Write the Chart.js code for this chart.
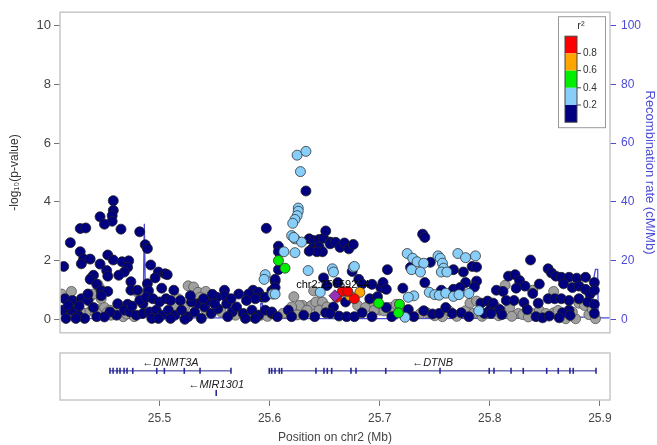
<!DOCTYPE html>
<html>
<head>
<meta charset="utf-8">
<script src="https://cdn.jsdelivr.net/npm/chart.js@4.4.1/dist/chart.umd.min.js"></script>
<style>
  html, body { margin: 0; padding: 0; background: #fff; }
  #wrap { position: relative; width: 657px; height: 445px; }
  #main { position: absolute; left: 0; top: 0; }
  #genes { position: absolute; left: 0; top: 345px; }
</style>
</head>
<body>
<div id="wrap">
  <canvas id="main" width="657" height="345"></canvas>
  <canvas id="genes" width="657" height="100"></canvas>
</div>
<script>
// --- data: [position (Mb), -log10(p)] ---
const snpNavy = [
  [25.458,4.04],[25.458,3.71],[25.457,3.53],[25.457,3.34],[25.446,3.49],[25.450,3.24],[25.428,3.09],[25.433,3.11],
  [25.465,3.07],[25.482,2.98],[25.419,2.61],[25.487,2.54],[25.489,2.41],[25.413,1.80],[25.428,2.30],[25.431,2.05],
  [25.437,2.05],[25.429,1.89],[25.453,2.19],[25.458,2.02],[25.446,1.88],[25.466,1.96],[25.472,1.99],[25.471,1.77],
  [25.468,1.61],[25.452,1.66],[25.453,1.47],[25.463,1.50],[25.440,1.50],[25.437,1.36],[25.474,1.28],[25.492,1.85],
  [25.499,1.61],[25.505,1.55],[25.496,1.41],[25.489,1.21],[25.443,1.19],[25.447,0.97],[25.453,0.95],[25.474,0.99],
  [25.480,0.99],[25.490,0.97],[25.502,1.06],[25.462,0.53],[25.471,0.51],
  [25.414,0.70],[25.421,0.64],[25.429,0.70],[25.435,0.64],[25.412,0.31],[25.420,0.31],[25.426,0.14],[25.432,0.03],
  [25.424,0.03],[25.415,0.03],[25.443,0.09],[25.461,0.14],[25.468,0.31],[25.473,0.25],[25.479,0.14],[25.485,0.20],
  [25.491,0.25],[25.497,0.31],[25.502,0.14],[25.493,0.03],[25.499,0.03],[25.485,0.53],[25.482,0.64],[25.488,0.75],
  [25.494,0.70],[25.500,0.59],[25.506,0.70],[25.447,0.80],[25.435,0.86],[25.417,0.47],[25.427,0.45],[25.440,0.40],
  [25.455,0.25],[25.475,0.45],[25.450,0.08],
  [25.597,3.10],[25.507,1.52],[25.513,0.99],[25.559,0.99],[25.572,0.86],[25.559,0.80],[25.552,0.75],[25.585,0.99],
  [25.581,0.86],[25.590,0.92],[25.593,0.75],[25.587,0.70],[25.579,0.64],[25.596,0.75],[25.602,0.97],[25.605,1.30],
  [25.508,0.31],[25.514,0.14],[25.520,0.31],[25.526,0.09],[25.532,0.25],[25.535,0.53],[25.541,0.42],[25.547,0.20],
  [25.553,0.36],[25.561,0.53],[25.566,0.25],[25.570,0.42],[25.576,0.20],[25.584,0.31],[25.590,0.14],[25.596,0.31],
  [25.602,0.20],[25.510,0.64],[25.519,0.64],[25.529,0.59],[25.544,0.64],[25.550,0.53],[25.562,0.09],[25.578,0.03],
  [25.587,0.03],[25.538,0.03],[25.523,0.00],[25.510,0.03],[25.528,0.80],[25.548,0.85],[25.565,0.70],[25.540,0.70],
  [25.633,4.37],[25.636,2.74],[25.640,2.68],[25.645,2.72],[25.649,2.76],[25.651,3.01],[25.655,2.63],[25.639,2.41],
  [25.645,2.46],[25.648,2.30],[25.643,2.30],[25.636,2.32],[25.608,2.49],[25.608,2.30],[25.608,1.69],[25.605,1.36],
  [25.605,1.08],[25.675,1.63],[25.649,1.41],[25.681,1.36],[25.684,1.20],[25.693,1.19],[25.701,1.08],[25.655,2.57],
  [25.660,2.62],[25.664,2.45],[25.668,2.60],[25.672,2.40],[25.676,2.55],[25.652,1.15],[25.662,1.25],
  [25.602,0.25],[25.607,0.09],[25.617,0.31],[25.620,0.09],[25.631,0.14],[25.641,0.09],[25.651,0.22],[25.658,0.42],
  [25.663,0.11],[25.669,0.59],[25.670,0.09],[25.677,0.09],[25.684,0.22],[25.693,0.09],[25.691,0.70],[25.698,0.77],
  [25.655,0.20],
  [25.739,2.90],[25.741,2.79],[25.707,1.69],[25.728,1.77],[25.746,1.94],[25.767,1.69],[25.776,1.61],[25.784,1.80],
  [25.788,1.78],[25.741,1.25],[25.778,1.25],[25.788,1.30],[25.721,1.06],[25.756,0.99],[25.767,1.02],[25.773,1.08],
  [25.786,1.10],[25.703,1.25],[25.706,1.02],
  [25.706,0.40],[25.711,0.09],[25.726,0.33],[25.731,0.09],[25.740,0.29],[25.748,0.18],[25.754,0.20],[25.760,0.40],
  [25.766,0.20],[25.774,0.22],[25.781,0.09],[25.792,0.55],[25.798,0.62],[25.800,0.31],[25.795,0.20],
  [25.837,2.02],[25.817,1.47],[25.823,1.52],[25.827,1.32],[25.832,1.13],[25.845,1.20],[25.853,1.72],[25.856,1.58],
  [25.860,1.47],[25.865,1.43],[25.872,1.43],[25.879,1.40],[25.887,1.43],[25.895,1.25],[25.867,1.21],[25.875,1.08],
  [25.881,1.13],[25.887,1.02],[25.891,0.86],[25.895,0.99],[25.806,0.99],[25.812,0.95],[25.824,1.06],[25.839,0.88],
  [25.853,0.70],[25.859,0.70],[25.865,0.70],[25.872,0.64],[25.881,0.70],[25.889,0.59],[25.895,0.51],[25.803,0.55],
  [25.815,0.64],[25.822,0.64],[25.831,0.57],[25.844,0.55],[25.809,0.33],[25.834,0.33],[25.872,0.31],[25.866,0.22],
  [25.895,0.20],[25.801,0.20],[25.811,0.16],[25.842,0.09],[25.848,0.05],[25.854,0.11],[25.863,0.05],[25.873,0.13]
];
const snpSky = [
  [25.596,1.52],[25.595,1.36],[25.603,0.86],[25.625,5.59],[25.633,5.72],[25.628,5.03],[25.626,3.79],[25.626,3.68],
  [25.625,3.53],[25.623,3.40],[25.621,3.27],[25.620,2.85],[25.623,2.74],[25.629,2.63],[25.622,2.79],[25.623,2.27],
  [25.613,2.30],[25.635,1.66],[25.657,1.72],[25.658,1.61],[25.676,1.77],[25.605,0.86],[25.646,0.92],[25.677,1.80],
  [25.725,2.24],[25.730,2.08],[25.734,1.96],[25.740,1.91],[25.729,1.69],[25.737,1.61],[25.753,2.16],[25.755,2.08],
  [25.757,1.91],[25.758,1.74],[25.756,1.61],[25.761,1.61],[25.771,2.24],[25.778,2.10],[25.787,2.16],[25.745,0.92],
  [25.750,0.84],[25.754,0.82],[25.760,0.89],[25.767,0.78],[25.772,0.84],[25.781,0.88],[25.731,0.80],[25.726,0.75],
  [25.790,0.29],[25.723,0.07]
];
const snpGreen = [[25.608,2.00],[25.614,1.74],[25.699,0.55],[25.718,0.51],[25.717,0.22]];
const snpOrange = [[25.682,0.92],[25.673,0.80]];
const snpRed = [[25.661,0.75],[25.666,0.95],[25.671,0.95],[25.677,0.70]];
const snpGrey = [
  [25.420,0.95],[25.437,0.77],[25.447,0.70],[25.438,0.31],[25.444,0.33],[25.450,0.40],[25.455,0.31],[25.433,0.20],
  [25.480,0.92],[25.456,0.14],[25.467,0.09],[25.477,0.09],[25.411,0.86],[25.418,0.25],[25.438,1.41],[25.444,1.19],
  [25.440,0.86],[25.446,1.05],[25.428,0.28],[25.452,0.22],[25.462,0.35],[25.470,0.18],
  [25.526,1.14],[25.531,1.10],[25.535,0.92],[25.542,0.95],[25.517,0.70],[25.537,0.75],[25.523,0.42],[25.542,0.31],
  [25.556,0.25],[25.569,0.14],[25.581,0.09],[25.592,0.14],[25.514,0.42],[25.583,0.22],[25.598,0.10],
  [25.622,0.77],[25.630,0.47],[25.638,0.47],[25.642,0.59],[25.648,0.59],[25.640,0.97],[25.627,0.47],[25.634,0.31],
  [25.645,0.31],[25.620,0.42],[25.680,0.47],[25.691,0.53],[25.700,0.31],[25.612,0.20],[25.625,0.15],[25.652,0.42],
  [25.687,0.40],[25.695,0.30],
  [25.710,0.40],[25.715,0.51],[25.737,0.20],[25.743,0.22],[25.757,0.09],[25.763,0.29],[25.778,0.29],[25.785,0.20],
  [25.782,0.55],[25.788,0.62],[25.704,0.29],[25.722,0.30],[25.750,0.12],[25.770,0.10],[25.793,0.10],
  [25.814,1.16],[25.839,0.99],[25.806,0.40],[25.818,0.40],[25.826,0.20],[25.830,0.16],[25.838,0.20],[25.845,0.31],
  [25.851,0.20],[25.858,0.22],[25.869,0.02],[25.878,0.02],[25.890,0.16],[25.896,0.02],[25.881,0.55],[25.886,0.47],
  [25.820,0.10],[25.858,0.95],[25.835,0.08],[25.862,0.30],[25.875,0.25],[25.893,0.35],[25.808,0.12]
];
const leadSnp = [[25.659244,0.80]];
const leadName = 'chr2:25659244';

// recombination rate (cM/Mb)
const recombPos  = [25.4096,25.485,25.4862,25.4868,25.4874,25.489,25.520,25.5915,25.592,25.5935,25.594,25.640,25.716,25.7175,25.719,25.850,25.893,25.8945,25.896,25.898,25.8985,25.9092];
const recombRate = [0.2,     0.3,   32.5,   32.5,   2.0,    0.5,   0.5,   0.5,    5.3,   5.3,    0.3,   0.2,   0.2,   1.5,    0.2,   0.4,   0.8,   14,     17,    17,    0.5,    0.5];

// genes: name, start, end (Mb), exon positions, row
const geneNames  = ['DNMT3A', 'MIR1301', 'DTNB'];
const geneStart  = [25.455, 25.5515, 25.5997];
const geneEnd    = [25.5649, 25.5515, 25.8965];
const geneRow    = [0, 1, 0];
const geneExons  = [
  [25.455,25.4578,25.4614,25.4641,25.4678,25.4705,25.4757,25.4975,25.5044,25.5225,25.5368,25.5649],
  [25.5515],
  [25.5997,25.6019,25.6049,25.6088,25.6110,25.6421,25.6494,25.6524,25.6564,25.6739,25.6785,25.7055,25.7548,25.7995,25.8038,25.8193,25.8304,25.8517,25.8622,25.8728,25.8758,25.8965]
];

const xTicks   = [25.5, 25.6, 25.7, 25.8, 25.9];
const pTicks   = [0, 2, 4, 6, 8, 10];
const recTicks = [0, 20, 40, 60, 80, 100];

const r2Breaks = ['0.8', '0.6', '0.4', '0.2'];
const r2Colors = ['#ff0000', '#ffa500', '#00ee00', '#87cefa', '#000080'];

const X_MIN = 25.4096, X_MAX = 25.9092;
const FONT = 'Liberation Sans, Arial, sans-serif';
const RECOMB_BLUE = '#4b4bd6';

const xy = arr => arr.map(p => ({ x: p[0], y: p[1] }));

function snpSet(data, fill, border, order) {
  return {
    data: xy(data), backgroundColor: fill, borderColor: border, borderWidth: 0.8,
    pointRadius: 5, pointHoverRadius: 5, order: order, yAxisID: 'y'
  };
}

// grey frame around the plot area
const framePlugin = {
  id: 'frame',
  afterDraw(chart) {
    const a = chart.chartArea, ctx = chart.ctx;
    ctx.save();
    ctx.strokeStyle = '#c8c8c8';
    ctx.lineWidth = 1.5;
    ctx.strokeRect(a.left, a.top, a.right - a.left, a.bottom - a.top);
    ctx.restore();
  }
};

// label above the lead SNP
const leadLabelPlugin = {
  id: 'leadLabel',
  afterDatasetsDraw(chart) {
    const meta = chart.getDatasetMeta(7);
    const pt = meta.data[0];
    const ctx = chart.ctx;
    ctx.save();
    ctx.font = '11px ' + FONT;
    ctx.fillStyle = '#000';
    ctx.textAlign = 'center';
    ctx.textBaseline = 'middle';
    ctx.fillText(leadName, pt.x - 2, pt.y - 11);
    ctx.restore();
  }
};

// r^2 colour key, top right
const r2KeyPlugin = {
  id: 'r2Key',
  afterDraw(chart) {
    const a = chart.chartArea, ctx = chart.ctx;
    const bx = a.right - 52, by = a.top + 4, bw = 47, bh = 111;
    ctx.save();
    ctx.fillStyle = '#fff';
    ctx.fillRect(bx, by, bw, bh);
    ctx.strokeStyle = '#999';
    ctx.lineWidth = 1;
    ctx.strokeRect(bx + 0.5, by + 0.5, bw, bh);
    ctx.fillStyle = '#333';
    ctx.font = '11px ' + FONT;
    ctx.textAlign = 'center';
    ctx.textBaseline = 'middle';
    ctx.fillText('r²', bx + 23, by + 10);
    const cx = bx + 7, cw = 12, cy = by + 20, ch = 17.2;
    r2Colors.forEach((c, i) => {
      ctx.fillStyle = c;
      ctx.fillRect(cx, cy + i * ch, cw, ch);
    });
    ctx.strokeStyle = '#444';
    ctx.strokeRect(cx, cy, cw, ch * 5);
    ctx.font = '10px ' + FONT;
    ctx.textAlign = 'left';
    ctx.fillStyle = '#333';
    r2Breaks.forEach((t, i) => {
      const y = cy + (i + 1) * ch;
      ctx.beginPath();
      ctx.moveTo(cx + cw, y);
      ctx.lineTo(cx + cw + 4, y);
      ctx.stroke();
      ctx.fillText(t, cx + cw + 6, y);
    });
    ctx.restore();
  }
};

new Chart(document.getElementById('main'), {
  type: 'scatter',
  data: {
    datasets: [
      { data: recombPos.map((p, i) => ({ x: p, y: recombRate[i] })), showLine: true, borderColor: RECOMB_BLUE,
        borderWidth: 1.3, pointRadius: 0, pointHoverRadius: 0, order: 20, yAxisID: 'yR' },
      snpSet(snpGrey, '#a0a0a0', '#555', 9),
      snpSet(snpNavy, '#000080', '#222', 8),
      snpSet(snpSky, '#87cefa', '#333', 7),
      snpSet(snpGreen, '#00ee00', '#333', 6),
      snpSet(snpOrange, '#ffa500', '#333', 5),
      snpSet(snpRed, '#ff0000', '#333', 4),
      { data: xy(leadSnp), backgroundColor: '#9632b8', borderColor: '#333', borderWidth: 0.8,
        pointStyle: 'rectRot', pointRadius: 6, order: 1, yAxisID: 'y' }
    ]
  },
  options: {
    responsive: false,
    animation: false,
    layout: { padding: { top: 10, bottom: 5, left: 0, right: 0 } },
    plugins: { legend: { display: false }, tooltip: { enabled: false } },
    scales: {
      x: { type: 'linear', min: X_MIN, max: X_MAX, display: false },
      y: {
        position: 'left', min: -0.46, max: 10.46,
        afterBuildTicks: s => { s.ticks = pTicks.map(v => ({ value: v })); },
        afterFit: s => { s.width = 60; },
        ticks: { color: '#444', font: { size: 13, family: FONT }, padding: 3 },
        grid: { drawOnChartArea: false, tickLength: 6, color: '#777' },
        border: { display: false },
        title: { display: true, text: '-log₁₀(p-value)', color: '#333', font: { size: 12, family: FONT },
                 padding: { top: 7, bottom: 0 } }
      },
      yR: {
        position: 'right', min: -4.6, max: 104.6,
        afterBuildTicks: s => { s.ticks = recTicks.map(v => ({ value: v })); },
        afterFit: s => { s.width = 47; },
        ticks: { color: RECOMB_BLUE, font: { size: 12, family: FONT }, padding: 5 },
        grid: { drawOnChartArea: false, tickLength: 6, color: RECOMB_BLUE },
        border: { display: false },
        title: { display: true, text: 'Recombination rate (cM/Mb)', color: RECOMB_BLUE,
                 font: { size: 13, family: FONT }, padding: { top: 0, bottom: 0 } }
      }
    }
  },
  plugins: [framePlugin, r2KeyPlugin, leadLabelPlugin]
});

// --- gene track ---
const rowLineY = [0.62, 0.15];
const rowLabelY = [0.78, 0.31];
const GENE_BLUE = '#2a2a96';

const geneSets = [];
geneNames.forEach((g, i) => {
  const y = rowLineY[geneRow[i]];
  if (geneEnd[i] > geneStart[i]) {
    geneSets.push({ data: [{ x: geneStart[i], y: y }, { x: geneEnd[i], y: y }], showLine: true,
      borderColor: GENE_BLUE, borderWidth: 1, pointRadius: 0 });
  }
  geneSets.push({ data: geneExons[i].map(e => ({ x: e, y: y })), pointStyle: 'line', rotation: 90,
    pointRadius: 3, borderColor: GENE_BLUE, borderWidth: 1.6, backgroundColor: GENE_BLUE });
});

const geneLabelPlugin = {
  id: 'geneLabels',
  afterDatasetsDraw(chart) {
    const xs = chart.scales.x, ys = chart.scales.y, ctx = chart.ctx;
    ctx.save();
    ctx.font = 'italic 11px ' + FONT;
    ctx.fillStyle = '#222';
    ctx.textAlign = 'center';
    ctx.textBaseline = 'middle';
    geneNames.forEach((g, i) => {
      const cx = xs.getPixelForValue((geneStart[i] + geneEnd[i]) / 2);
      const cy = ys.getPixelForValue(rowLabelY[geneRow[i]]);
      ctx.fillText('\u2190' + g, cx, cy);
    });
    ctx.restore();
  }
};

new Chart(document.getElementById('genes'), {
  type: 'scatter',
  data: { datasets: geneSets },
  options: {
    responsive: false,
    animation: false,
    layout: { padding: { top: 8, bottom: 0, left: 60, right: 47 } },
    plugins: { legend: { display: false }, tooltip: { enabled: false } },
    scales: {
      x: {
        type: 'linear', min: X_MIN, max: X_MAX,
        afterBuildTicks: s => { s.ticks = xTicks.map(v => ({ value: v })); },
        afterFit: s => { s.height = 45; },
        ticks: { color: '#444', font: { size: 12, family: FONT }, padding: 5, maxRotation: 0, autoSkip: false,
                 callback: v => v.toFixed(1) },
        grid: { drawOnChartArea: false, tickLength: 6, color: '#777' },
        border: { display: false },
        title: { display: true, text: 'Position on chr2 (Mb)', color: '#444', font: { size: 12, family: FONT },
                 padding: { top: 0, bottom: 0 } }
      },
      y: { display: false, min: 0, max: 1 }
    }
  },
  plugins: [framePlugin, geneLabelPlugin]
});
</script>
</body>
</html>
